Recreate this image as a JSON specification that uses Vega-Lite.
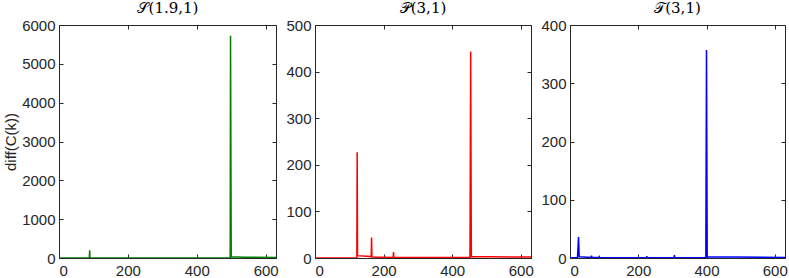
{
  "$schema": "https://vega.github.io/schema/vega-lite/v6.json",
  "padding": {"left": 3, "top": 0, "right": 0, "bottom": 0},
  "background": "white",
  "spacing": 39,
  "bounds": "flush",
  "config": {
    "view": {"stroke": "#262626", "strokeWidth": 1},
    "font": "Liberation Sans",
    "axis": {
      "domainColor": "#262626", "tickColor": "#262626", "labelColor": "#262626",
      "titleColor": "#262626", "labelFontSize": 15, "titleFontSize": 15,
      "titleFontWeight": "normal", "grid": false, "tickSize": -4, "labelPadding": 8,
      "labelFont": "Liberation Sans", "titleFont": "Liberation Sans"
    },
    "axisX": {"labelPadding": 9},
    "title": {"font": "DejaVu Serif", "fontSize": 15, "fontWeight": "normal", "color": "#000000", "offset": 2}
  },
  "datasets": {
    "s": [
      {"x": 0, "y": 0}, {"x": 88, "y": 0}, {"x": 89, "y": 198}, {"x": 90, "y": 2},
      {"x": 497, "y": 3}, {"x": 498, "y": 5720}, {"x": 500, "y": 30}, {"x": 540, "y": 20}, {"x": 630, "y": 15}
    ],
    "p": [
      {"x": 0, "y": 0}, {"x": 122, "y": 0}, {"x": 123, "y": 227}, {"x": 124, "y": 5},
      {"x": 164, "y": 3}, {"x": 165, "y": 44}, {"x": 166, "y": 2},
      {"x": 228, "y": 1}, {"x": 229, "y": 13}, {"x": 230, "y": 1},
      {"x": 452, "y": 1}, {"x": 454, "y": 443}, {"x": 456, "y": 3}, {"x": 630, "y": 2}
    ],
    "t": [
      {"x": 0, "y": 0}, {"x": 22, "y": 1}, {"x": 25, "y": 36}, {"x": 27, "y": 2},
      {"x": 62, "y": 1}, {"x": 63, "y": 4}, {"x": 64, "y": 1},
      {"x": 85, "y": 1}, {"x": 86, "y": 2}, {"x": 87, "y": 0.5},
      {"x": 224, "y": 0.5}, {"x": 225, "y": 3}, {"x": 226, "y": 0.5},
      {"x": 305, "y": 0.5}, {"x": 306, "y": 5}, {"x": 307, "y": 0.5},
      {"x": 398, "y": 0.5}, {"x": 400, "y": 357}, {"x": 402, "y": 2}, {"x": 630, "y": 1}
    ]
  },
  "hconcat": [
    {
      "title": "𝒮(1.9,1)",
      "width": 217, "height": 233,
      "data": {"name": "s"},
      "resolve": {"axis": {"x": "independent", "y": "independent"}},
      "layer": [
        {
          "mark": {"type": "line", "color": "#007f00", "strokeWidth": 1.5, "clip": true},
          "encoding": {
            "x": {"field": "x", "type": "quantitative", "scale": {"domain": [0, 630], "nice": false}, "axis": {"values": [0, 200, 400, 600], "title": null, "format": "d"}},
            "y": {"field": "y", "type": "quantitative", "scale": {"domain": [0, 6000], "nice": false}, "axis": {"values": [0, 1000, 2000, 3000, 4000, 5000, 6000], "title": "diff(C(k))", "titlePadding": 3, "format": "d"}}
          }
        },
        {
          "mark": {"type": "line", "opacity": 0, "clip": true},
          "encoding": {
            "x": {"field": "x", "type": "quantitative", "axis": {"orient": "top", "values": [0, 200, 400, 600], "title": null, "labels": false, "domain": false}},
            "y": {"field": "y", "type": "quantitative", "axis": {"orient": "right", "values": [0, 1000, 2000, 3000, 4000, 5000, 6000], "title": null, "labels": false, "domain": false}}
          }
        }
      ]
    },
    {
      "title": "𝒫(3,1)",
      "width": 216, "height": 233,
      "data": {"name": "p"},
      "resolve": {"axis": {"x": "independent", "y": "independent"}},
      "layer": [
        {
          "mark": {"type": "line", "color": "#ff0000", "strokeWidth": 1.5, "clip": true},
          "encoding": {
            "x": {"field": "x", "type": "quantitative", "scale": {"domain": [0, 630], "nice": false}, "axis": {"values": [0, 200, 400, 600], "title": null, "format": "d"}},
            "y": {"field": "y", "type": "quantitative", "scale": {"domain": [0, 500], "nice": false}, "axis": {"values": [0, 100, 200, 300, 400, 500], "title": null, "format": "d"}}
          }
        },
        {
          "mark": {"type": "line", "opacity": 0, "clip": true},
          "encoding": {
            "x": {"field": "x", "type": "quantitative", "axis": {"orient": "top", "values": [0, 200, 400, 600], "title": null, "labels": false, "domain": false}},
            "y": {"field": "y", "type": "quantitative", "axis": {"orient": "right", "values": [0, 100, 200, 300, 400, 500], "title": null, "labels": false, "domain": false}}
          }
        }
      ]
    },
    {
      "title": "𝒯(3,1)",
      "width": 215, "height": 233,
      "data": {"name": "t"},
      "resolve": {"axis": {"x": "independent", "y": "independent"}},
      "layer": [
        {
          "mark": {"type": "line", "color": "#0000ff", "strokeWidth": 1.5, "clip": true},
          "encoding": {
            "x": {"field": "x", "type": "quantitative", "scale": {"domain": [0, 630], "nice": false}, "axis": {"values": [0, 200, 400, 600], "title": null, "format": "d"}},
            "y": {"field": "y", "type": "quantitative", "scale": {"domain": [0, 400], "nice": false}, "axis": {"values": [0, 100, 200, 300, 400], "title": null, "format": "d"}}
          }
        },
        {
          "mark": {"type": "line", "opacity": 0, "clip": true},
          "encoding": {
            "x": {"field": "x", "type": "quantitative", "axis": {"orient": "top", "values": [0, 200, 400, 600], "title": null, "labels": false, "domain": false}},
            "y": {"field": "y", "type": "quantitative", "axis": {"orient": "right", "values": [0, 100, 200, 300, 400], "title": null, "labels": false, "domain": false}}
          }
        }
      ]
    }
  ]
}
